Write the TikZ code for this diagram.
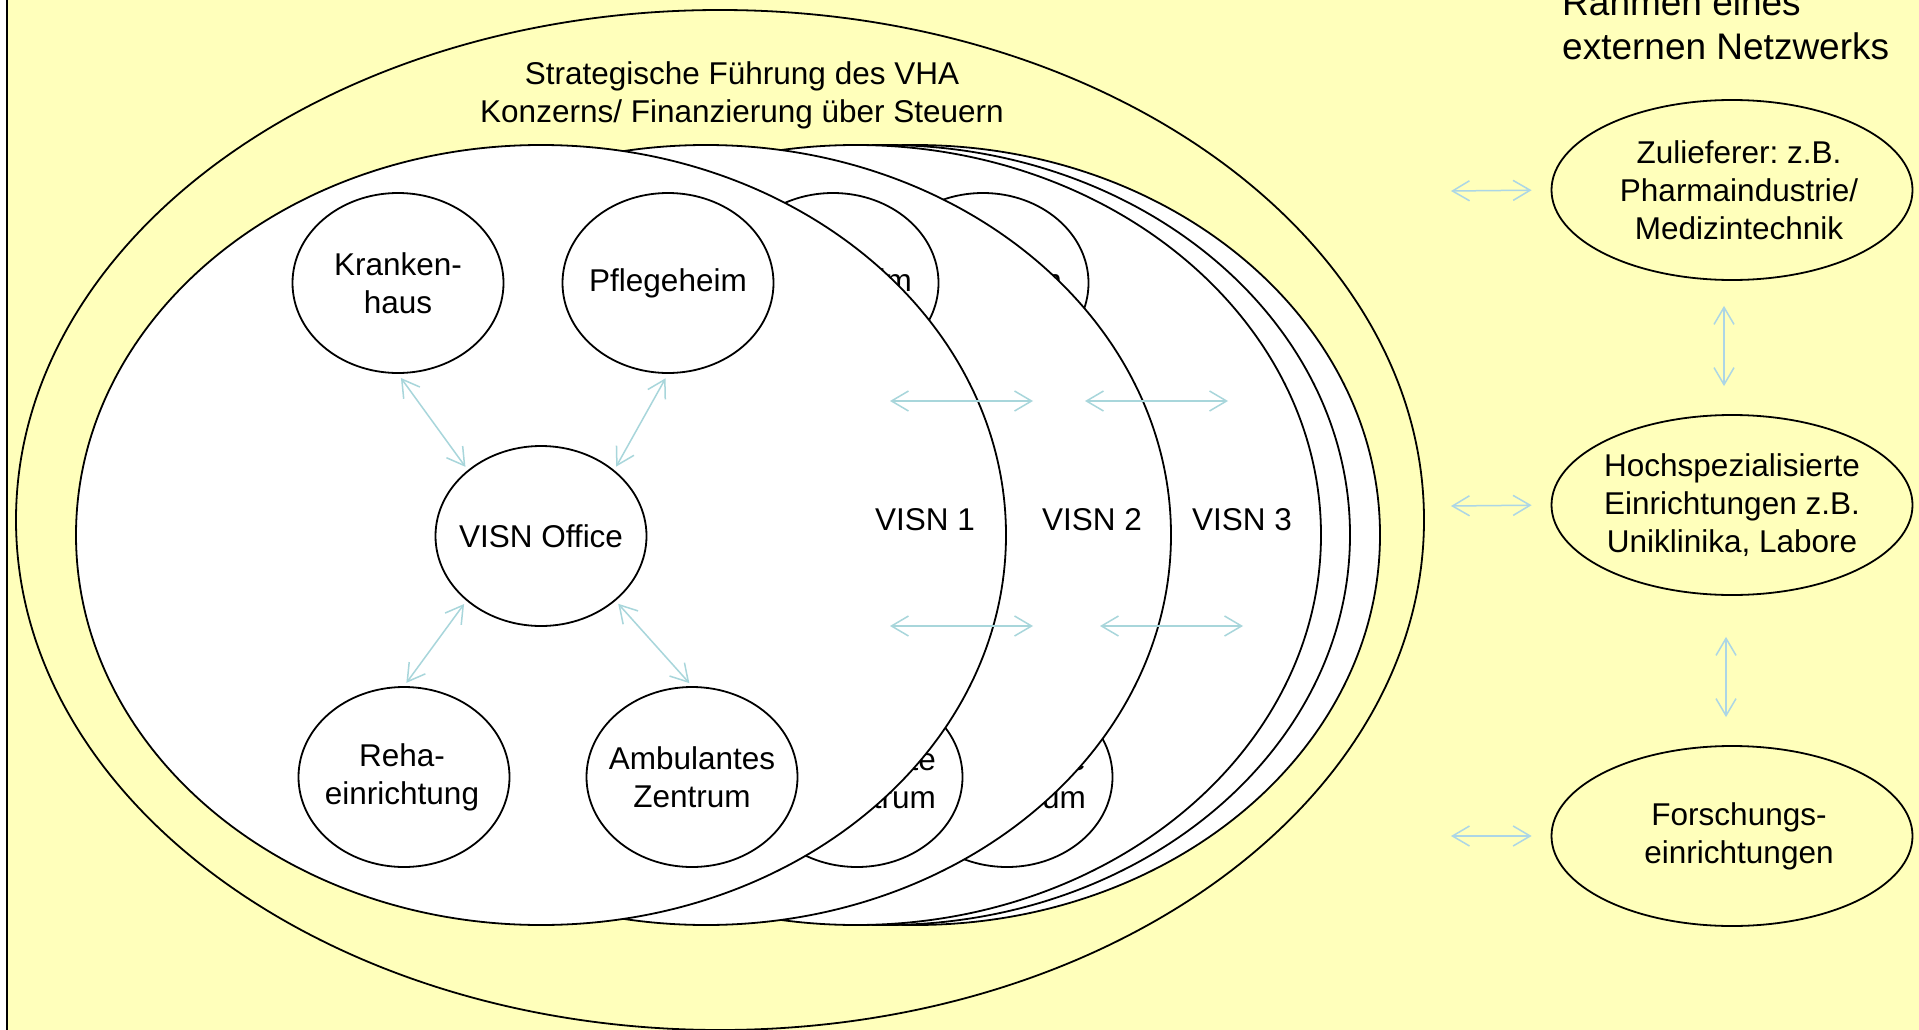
\documentclass[tikz,border=0pt]{standalone}
\usepackage{fontspec}
\setmainfont{Liberation Sans}
\frenchspacing
\usetikzlibrary{shapes.geometric,arrows.meta}
\definecolor{bgyellow}{HTML}{FFFFBB}
\definecolor{arrin}{RGB}{168,214,219}
\definecolor{arrout}{RGB}{172,214,230}
\begin{document}
\begin{tikzpicture}[x=1pt,y=-1pt,
  txt/.style={font=\fontsize{31.5}{38}\selectfont, align=center, inner sep=0pt},
  unit/.style={ellipse, draw=black, line width=1.8pt, fill=white, minimum width=211pt, minimum height=180pt, inner sep=0pt},
  visn/.style={ellipse, draw=black, line width=1.8pt, fill=white, minimum width=930pt, minimum height=780pt, inner sep=0pt},
  ext/.style={ellipse, draw=black, line width=1.8pt, minimum width=361pt, minimum height=180pt, inner sep=0pt},
  biarrow/.style={line width=1.5pt, {Straight Barb[length=17pt,width=20pt]}-{Straight Barb[length=17pt,width=20pt]}},
]
\useasboundingbox (0,0) rectangle (1919,1030);
% background
\fill[white] (0,0) rectangle (1919,1030);
\fill[bgyellow] (7,0) rectangle (1919,1030);
\draw[line width=1.5pt] (7,-5) -- (7,1035);

% outer ellipse
\draw[line width=1.8pt] (720,520) ellipse [x radius=704, y radius=510];
\node[txt] (title) at (742,95) {Strategische Führung des VHA\\Konzerns/ Finanzierung über Steuern};

% back VISN layers
\node[visn] (v5) at (915,535) {};
\node[visn] (v4) at (885,535) {};
\node[visn] (v3) at (856,535) {};
\node[unit, label={[txt]center:Pflegeheim}] (pf3) at (983,283) {};
\node[unit] (amb3) at (1007,777) {};
\node[txt, align=right, anchor=east] (amb3t) at (1086,778) {Ambulante\\Zentrum};
\node[txt] (l3) at (1242,520) {VISN 3};

\node[visn] (v2) at (706,535) {};
\node[unit, label={[txt]center:Pflegeheim}] (pf2) at (833,283) {};
\node[unit] (amb2) at (857,777) {};
\node[txt, align=right, anchor=east] (amb2t) at (936,778) {Ambulante\\Zentrum};
\node[txt] (l2) at (1092,520) {VISN 2};

% front VISN layer
\node[visn] (v1) at (541,535) {};
\node[unit, label={[txt]center:Kranken-\\haus}] (kh) at (398,283) {};
\node[unit, label={[txt]center:Pflegeheim}] (pf) at (668,283) {};
\node[unit, label={[txt]center:VISN Office}] (office) at (541,536) {};
\node[unit, label={[txt,xshift=-2pt]center:Reha-\\einrichtung}] (reha) at (404,777) {};
\node[unit, label={[txt]center:Ambulantes\\Zentrum}] (amb) at (692,777) {};
\node[txt] (l1) at (925,520) {VISN 1};

\draw[biarrow, draw=arrin, shorten <=5pt, shorten >=4pt] (kh.south) -- (office.138);
\draw[biarrow, draw=arrin, shorten <=5pt, shorten >=4pt] (pf.south) -- (office.42);
\draw[biarrow, draw=arrin, shorten <=4pt, shorten >=4pt] (reha.north) -- (office.221);
\draw[biarrow, draw=arrin, shorten <=4pt, shorten >=4pt] (amb.north) -- (office.319);

% arrows between the VISN layers
\coordinate (ta1) at (890,401); \coordinate (tb1) at (1033,401);
\coordinate (ta2) at (1085,401); \coordinate (tb2) at (1228,401);
\coordinate (ba1) at (890,626); \coordinate (bb1) at (1033,626);
\coordinate (ba2) at (1100,626); \coordinate (bb2) at (1243,626);
\draw[biarrow, draw=arrin] (ta1) -- (tb1);
\draw[biarrow, draw=arrin] (ta2) -- (tb2);
\draw[biarrow, draw=arrin] (ba1) -- (bb1);
\draw[biarrow, draw=arrin] (ba2) -- (bb2);

% external network
\node[font=\fontsize{37}{44}\selectfont, align=left, inner sep=0pt, anchor=south west] (netz) at (1562,60) {Rahmen eines\\externen Netzwerks};
\node[ext, label={[txt,xshift=7pt]center:Zulieferer: z.B.\\Pharmaindustrie/\\Medizintechnik}] (zul) at (1732,190) {};
\node[ext, label={[txt]center:Hochspezialisierte\\Einrichtungen z.B.\\Uniklinika, Labore}] (hoch) at (1732,505) {};
\node[ext, label={[txt,xshift=7pt]center:Forschungs-\\einrichtungen}] (forsch) at (1732,836) {};

\coordinate (zl) at (1451,191);
\coordinate (hl) at (1451,506);
\coordinate (fl) at (1451,836);
\draw[biarrow, draw=arrout, shorten >=19pt] (zl) -- (zul.west);
\draw[biarrow, draw=arrout, shorten >=19pt] (hl) -- (hoch.west);
\draw[biarrow, draw=arrout, shorten >=19pt] (fl) -- (forsch.west);
\draw[biarrow, draw=arrout, shorten <=25pt, shorten >=28pt] ([xshift=-8pt]zul.south) -- ([xshift=-8pt]hoch.north);
\draw[biarrow, draw=arrout, shorten <=41pt, shorten >=28pt] ([xshift=-6pt]hoch.south) -- ([xshift=-6pt]forsch.north);
\end{tikzpicture}
\end{document}
